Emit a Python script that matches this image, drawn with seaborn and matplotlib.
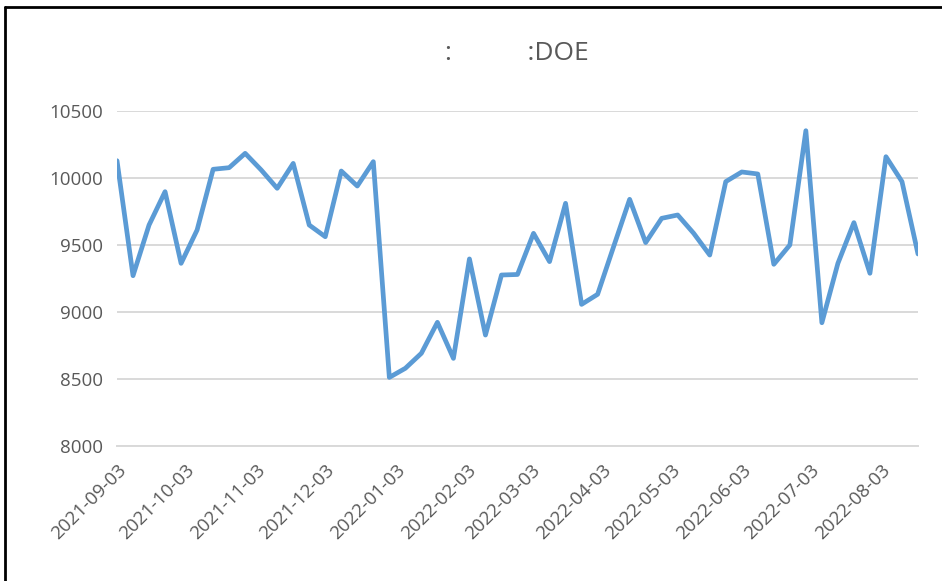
import seaborn as sns
import numpy as np
import pandas as pd
import matplotlib.pyplot as plt
import matplotlib.dates as mdates
from matplotlib.lines import Line2D

# weekly values
start_date = "2021-09-03"
values = [10129, 9271, 9649, 9898, 9363, 9612, 10065, 10077, 10184, 10060,
          9923, 10109, 9649, 9562, 10052, 9940, 10122, 8512, 8580, 8692,
          8923, 8654, 9396, 8828, 9276, 9280, 9587, 9376, 9811, 9057,
          9132, 9488, 9841, 9518, 9699, 9724, 9587, 9425, 9973, 10045,
          10030, 9356, 9500, 10353, 8920, 9363, 9667, 9289, 10159, 9973,
          9433]
tick_dates = ["2021-09-03", "2021-10-03", "2021-11-03", "2021-12-03",
              "2022-01-03", "2022-02-03", "2022-03-03", "2022-04-03",
              "2022-05-03", "2022-06-03", "2022-07-03", "2022-08-03"]
yticks = [8000, 8500, 9000, 9500, 10000, 10500]
title = ":           :DOE"

dates = pd.date_range(start_date, periods=len(values), freq="7D")
df = pd.DataFrame({"date": dates, "value": values})

sns.set_style("white")
plt.rcParams['font.family'] = ['Open Sans', 'DejaVu Sans']
txt = "#595959"
grid = "#d9d9d9"

fig = plt.figure(figsize=(9.42, 5.81), dpi=100)
ax = fig.add_axes([117/942, 1-446/581, (918-117)/942, (446-111)/581])

sns.lineplot(data=df, x="date", y="value", ax=ax, color="#5b9bd5", linewidth=3.4)

ax.set_ylim(8000, 10500)
ax.set_xlim(dates[0], dates[-1])
ax.set_yticks(yticks)
ax.set_yticklabels([str(v) for v in yticks], color=txt, fontsize=13.5)
ax.yaxis.grid(True, color=grid, linewidth=1.4)
ax.set_axisbelow(True)

tks = pd.to_datetime(tick_dates)
ax.set_xticks(tks)
ax.set_xticklabels(tick_dates, rotation=45, ha="right", rotation_mode="anchor",
                   color=txt, fontsize=13.5)
ax.tick_params(axis="x", direction="out", length=8, width=1.4, color=grid, pad=3)
ax.tick_params(axis="y", length=0, pad=10)

for s in ["left", "right", "top"]:
    ax.spines[s].set_visible(False)
ax.spines["bottom"].set_color(grid)
ax.spines["bottom"].set_linewidth(1.4)
ax.set_xlabel("")
ax.set_ylabel("")

fig.text(517/942, 1-53/581, title, ha="center", va="center", fontsize=19, color=txt)

# chart border (cropped on right and bottom)
fig.add_artist(Line2D([5/942, 5/942], [0, 1-7/581], transform=fig.transFigure,
                      color="black", linewidth=2))
fig.add_artist(Line2D([5/942, 1], [1-7/581, 1-7/581], transform=fig.transFigure,
                      color="black", linewidth=2))

fig.savefig("out.png", dpi=100)
